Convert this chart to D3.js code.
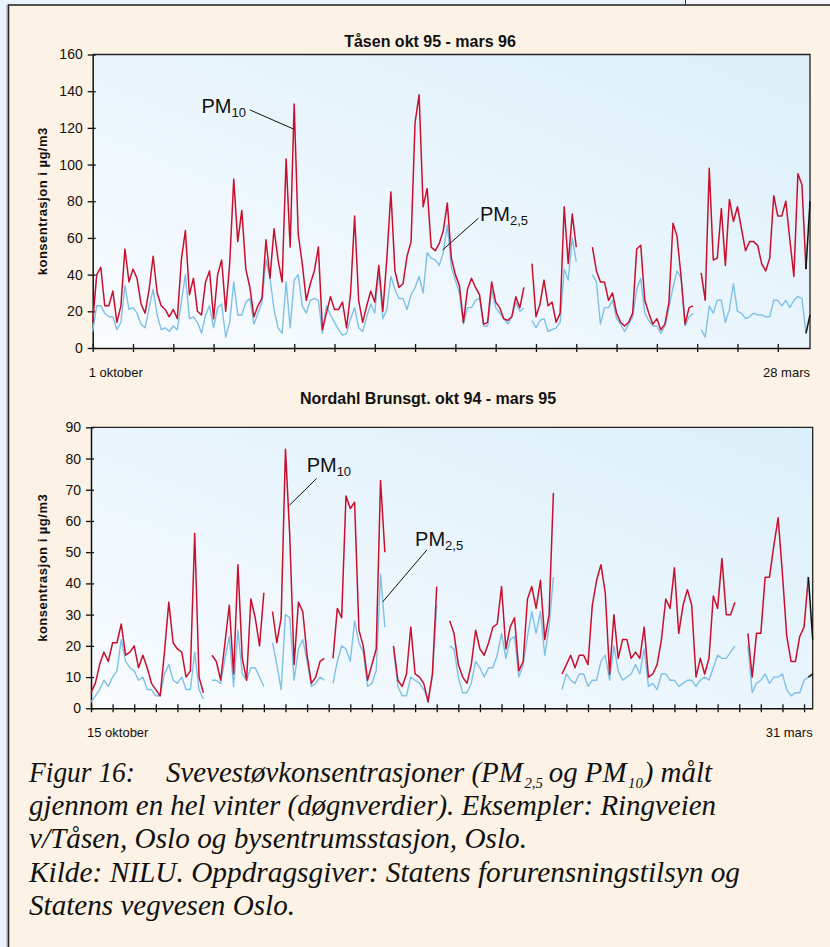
<!DOCTYPE html>
<html><head><meta charset="utf-8">
<script src="https://cdn.jsdelivr.net/npm/d3@7"></script>
<style>
html,body{margin:0;padding:0;background:#eaf3fc;}
svg{display:block;}
</style>
</head><body>
<svg id="chart" width="830" height="947"></svg>
<script>
// ---------------- DATA ----------------
// Tåsen okt 95 - mars 96 : one value per day from 1 oktober (day 0); null = missing day
const tasenTitle = "Tåsen okt 95 - mars 96";
const tasenStart = "1 oktober";
const tasenEnd = "28 mars";
const tasenPM10 = [
  14,40,44,23,23,31,14,23,54,36, 43,38,24,19,32,50,30,23,21,17,
  21,16,48,64,29,38,20,18,36,42, 16,40,48,20,46,92,58,75,43,33,
  17,23,27,59,38,65,48,36,103,55, 133,62,46,26,35,42,55,10,19,28,
  21,21,25,11,30,72,26,14,23,31, 25,45,20,49,85,42,33,35,50,58,
  123,138,77,87,55,53,57,64,79,49, 40,34,14,32,38,33,29,13,14,36,
  25,22,16,15,17,28,22,33,null,46, 17,24,37,23,25,14,19,77,46,73,
  55,null,null,null,55,42,36,36,26,30, 19,14,12,14,19,54,56,26,19,13,
  16,10,13,25,68,61,39,13,22,23, null,41,26,98,48,49,76,45,81,69,
  77,65,53,58,58,56,46,42,49,83, 72,72,80,59,39,95,89,43,80
];
const tasenPM25 = [
  9,23,23,19,17,17,10,14,34,21, 22,19,13,11,22,32,18,10,11,9,
  12,10,25,40,16,17,14,8,18,23, 11,22,24,6,14,36,18,18,25,27,
  13,19,25,48,38,21,11,8,36,11, 37,40,23,19,26,27,26,8,23,18,
  14,10,7,8,16,22,11,9,17,24, 19,42,16,21,39,32,27,27,21,29,
  33,39,30,52,49,48,45,52,67,44, 37,30,13,22,22,26,27,12,12,32,
  22,19,16,13,17,25,20,22,null,15, 11,15,16,9,10,11,14,43,37,60,
  47,null,null,null,40,36,13,22,22,26, 16,13,9,13,17,32,38,19,15,12,
  12,8,12,22,33,42,38,12,17,19, null,10,6,23,19,26,26,14,21,35,
  20,19,16,17,19,18,18,17,17,26, 26,23,26,22,26,28,27,8,18
];
const tasenTicksY = [0,20,40,60,80,100,120,140,160];

// Nordahl Brunsgt. okt 94 - mars 95 : one value per day from 15 oktober (day 0)
const nordTitle = "Nordahl Brunsgt. okt 94 - mars 95";
const nordStart = "15 oktober";
const nordEnd = "31 mars";
const nordPM10 = [
  5,8,14,18,15,21,21,27,17,18, 20,13,17,13,8,6,4,18,34,21,
  19,18,10,12,56,10,5,null,17,15, 9,21,33,11,46,16,9,35,29,20,
  37,null,31,21,29,83,55,14,34,31, 17,8,10,15,16,null,16,32,29,68,
  64,66,25,20,9,14,19,73,50,null, 20,9,7,11,26,11,10,8,2,11,
  39,null,null,28,24,14,10,8,14,25, 19,17,21,26,27,39,19,26,29,12,
  15,35,39,32,41,22,30,69,null,11, 14,17,13,17,17,14,33,41,46,37,
  11,30,16,22,22,16,18,16,26,10, 11,14,22,35,32,45,24,33,38,33,
  10,16,11,16,36,32,48,30,30,34, null,null,24,10,24,24,42,42,52,61,
  43,23,15,15,23,26,42,22
];
const nordPM25 = [
  2,4,6,9,7,10,12,22,15,13, 12,9,10,6,6,4,4,11,14,9,
  8,10,6,6,18,6,3,null,9,9, 8,16,23,7,25,11,9,13,13,10,
  7,null,21,14,6,30,29,9,19,22, 15,7,8,10,9,null,8,15,20,19,
  15,28,21,18,7,8,12,43,26,null, 19,7,4,4,10,9,8,6,3,10,
  33,null,null,20,19,10,5,5,8,15, 13,10,13,13,17,24,16,22,23,10,
  14,23,31,24,31,17,26,42,null,6, 11,9,8,11,11,7,9,9,15,17,
  9,20,12,9,10,11,14,11,19,7, 8,6,11,11,9,9,7,8,9,9,
  7,9,10,9,13,17,16,16,18,20, null,null,20,5,8,9,11,8,10,10,
  11,6,4,5,5,9,10,11
];
const nordTicksY = [0,10,20,30,40,50,60,70,80,90];

const yTitle = "konsentrasjon i µg/m3";

const captionHead = "Figur 16:";
const captionFirst = [
  {t:"Svevestøvkonsentrasjoner (PM", sub:false},
  {t:"2,5", sub:true},
  {t:"og PM", sub:false},
  {t:"10", sub:true},
  {t:") målt", sub:false}
];
const captionLines = [
  "gjennom en hel vinter (døgnverdier). Eksempler: Ringveien",
  "v/Tåsen, Oslo og bysentrumsstasjon, Oslo.",
  "Kilde: NILU. Oppdragsgiver: Statens forurensningstilsyn og",
  "Statens vegvesen Oslo."
];
const captionWidths = [687, 498, 711, 266];

// ---------------- FONT PICK ----------------
function pickFont(cands){
  const c = document.createElement('canvas').getContext('2d');
  const s = 'Figur 16: Svevestøvkonsentrasjoner WMmil';
  c.font = 'italic 40px monospace'; const b1 = c.measureText(s).width;
  c.font = 'italic 40px sans-serif'; const b2 = c.measureText(s).width;
  for (const f of cands){
    c.font = `italic 40px '${f}', monospace`; const w1 = c.measureText(s).width;
    c.font = `italic 40px '${f}', sans-serif`; const w2 = c.measureText(s).width;
    if (w1 !== b1 && w2 !== b2) return f;
  }
  return null;
}
const serifCands = ['Liberation Serif','Times New Roman','Tinos','Nimbus Roman','Nimbus Roman No9 L','FreeSerif','Noto Serif','DejaVu Serif'];
const serifPick = pickFont(serifCands);
const timesLike = ['Liberation Serif','Times New Roman','Tinos','Nimbus Roman','Nimbus Roman No9 L','FreeSerif'];
const capSize = serifPick && timesLike.includes(serifPick) ? 29.4 : (serifPick ? 26.8 : 27.5);
const SERIF = (serifPick ? `'${serifPick}', ` : '') + "serif";

// ---------------- DRAW ----------------
const SANS = "'Liberation Sans', Arial, sans-serif";
const svg = d3.select("#chart");
const RED = "#c8102e", BLUE = "#7fc1e6";

// panel background
svg.append("rect").attr("x",0).attr("y",0).attr("width",830).attr("height",947).attr("fill","#eaf3fc");
svg.append("rect").attr("x",685).attr("y",0).attr("width",145).attr("height",5).attr("fill","#f7f8f9");
svg.append("line").attr("x1",685.5).attr("x2",685.5).attr("y1",0).attr("y2",5).attr("stroke","#333").attr("stroke-width",1);
svg.append("line").attr("x1",7).attr("x2",7).attr("y1",5).attr("y2",947).attr("stroke","#9aa0a6").attr("stroke-width",1);
svg.append("rect").attr("x",8.5).attr("y",5).attr("width",840).attr("height",960)
   .attr("fill","#fcf2e5").attr("stroke","#2b2b2b").attr("stroke-width",1.6);

const defs = svg.append("defs");
const grad = defs.append("linearGradient").attr("id","plotbg")
  .attr("x1","0").attr("y1","1").attr("x2","1").attr("y2","0");
grad.append("stop").attr("offset","0%").attr("stop-color","#f9fcff");
grad.append("stop").attr("offset","100%").attr("stop-color","#dbeff9");

function panel(cfg){
  const x = d3.scaleLinear().domain([0, cfg.lastDay]).range([cfg.left, cfg.right]);
  const y = d3.scaleLinear().domain([0, cfg.yMax]).range([cfg.bottom, cfg.top]);
  const g = svg.append("g");

  g.append("rect").attr("x",cfg.left).attr("y",cfg.top)
    .attr("width",cfg.right-cfg.left).attr("height",cfg.bottom-cfg.top)
    .attr("fill","url(#plotbg)");

  g.append("path").attr("d",`M${cfg.left},${cfg.top}H${cfg.right}V${cfg.bottom}`)
    .attr("fill","none").attr("stroke","#222").attr("stroke-width",1.3);

  const yAxis = d3.axisLeft(y).tickValues(cfg.yTicks).tickSizeInner(5).tickSizeOuter(0).tickPadding(5);
  const ya = g.append("g").attr("transform",`translate(${cfg.left},0)`).call(yAxis);
  ya.select(".domain").attr("stroke","#111").attr("stroke-width",1.5);
  ya.selectAll(".tick line").attr("stroke","#111").attr("stroke-width",1.3).attr("x2",-5).attr("x1",3);
  ya.selectAll(".tick text").attr("font-family",SANS).attr("font-size",14).attr("fill","#111");

  const xt = d3.range(0, cfg.lastDay, cfg.tickEvery);
  const xAxis = d3.axisBottom(x).tickValues(xt).tickSizeInner(4).tickSizeOuter(0).tickFormat("");
  const xa = g.append("g").attr("transform",`translate(0,${cfg.bottom})`).call(xAxis);
  xa.select(".domain").attr("stroke","#111").attr("stroke-width",1.5);
  xa.selectAll(".tick line").attr("stroke","#111").attr("stroke-width",1.3).attr("y1",-4).attr("y2",4);

  const last = cfg.pm10.length - 1;
  const mk = (lo, hi) => d3.line().defined((d,i) => d != null && i >= lo && i <= hi)
                              .x((d,i) => x(i)).y(d => y(d));
  g.append("path").datum(cfg.pm25).attr("d", mk(0,last-1)).attr("fill","none")
    .attr("stroke",BLUE).attr("stroke-width",1.4).attr("stroke-linejoin","round");
  g.append("path").datum(cfg.pm10).attr("d", mk(0,last-1)).attr("fill","none")
    .attr("stroke",RED).attr("stroke-width",1.5).attr("stroke-linejoin","round");
  [cfg.pm25, cfg.pm10].forEach(s => {
    g.append("path").datum(s).attr("d", mk(last-1,last)).attr("fill","none")
      .attr("stroke","#111").attr("stroke-width",1.5);
  });

  g.append("text").attr("x",cfg.titleX).attr("y",cfg.titleY).attr("text-anchor","middle")
    .attr("font-family",SANS).attr("font-weight","bold")
    .attr("font-size",16).attr("fill","#111").text(cfg.title);
  g.append("text").attr("x",cfg.left-4).attr("y",cfg.bottom+29)
    .attr("font-family",SANS).attr("font-size",13).attr("fill","#111").text(cfg.start);
  g.append("text").attr("x",cfg.right).attr("y",cfg.bottom+29).attr("text-anchor","end")
    .attr("font-family",SANS).attr("font-size",13).attr("fill","#111").text(cfg.end);
  g.append("text").attr("transform",`translate(42,${(cfg.top+cfg.bottom)/2}) rotate(-90)`)
    .attr("text-anchor","middle").attr("dominant-baseline","central")
    .attr("font-family",SANS).attr("font-weight","bold")
    .attr("font-size",13).attr("letter-spacing",0.5).attr("fill","#111").text(yTitle);

  cfg.notes.forEach(n => {
    g.append("line").attr("x1",x(n.from[0])).attr("y1",y(n.from[1]))
      .attr("x2",x(n.to[0])).attr("y2",y(n.to[1])).attr("stroke","#111").attr("stroke-width",1);
    const t = g.append("text").attr("x",x(n.at[0])).attr("y",y(n.at[1]))
      .attr("font-family",SANS).attr("font-size",20).attr("fill","#111");
    t.append("tspan").text("PM");
    t.append("tspan").attr("font-size",13).attr("dy",4).text(n.sub);
  });
}

panel({
  left:92.7, right:810, top:54.5, bottom:348, lastDay:178, yMax:160, yTicks:tasenTicksY, tickEvery:10,
  pm10:tasenPM10, pm25:tasenPM25, title:tasenTitle, titleX:430, titleY:47, start:tasenStart, end:tasenEnd,
  notes:[
    {sub:"10", at:[27.0,128.3], from:[39.0,129.8], to:[49.8,119.4]},
    {sub:"2,5", at:[96.1,69.4], from:[95.7,70.7], to:[86.8,53.4]}
  ]
});
panel({
  left:91, right:812.7, top:427.3, bottom:708.3, lastDay:167, yMax:90, yTicks:nordTicksY, tickEvery:5,
  pm10:nordPM10, pm25:nordPM25, title:nordTitle, titleX:428, titleY:404, start:nordStart, end:nordEnd,
  notes:[
    {sub:"10", at:[49.9,75.7], from:[52.2,73.6], to:[45.9,65.0]},
    {sub:"2,5", at:[75.0,52.1], from:[77.7,50.7], to:[67.5,34.1]}
  ]
});

// caption
const cap = svg.append("g").attr("font-family",SERIF)
  .attr("font-style","italic").attr("font-size",capSize).attr("fill","#111");
const base = 782, lh = 33.2;
cap.append("text").attr("x",29).attr("y",base)
  .attr("textLength",106).attr("lengthAdjust","spacingAndGlyphs").text(captionHead);

// first line: separate pieces laid out side by side, then fitted to the reference width
const gaps = [0, 1.5, 6, 1.5, 1];
const firstG = cap.append("g");
let cx = 0;
captionFirst.forEach((p, i) => {
  cx += gaps[i];
  const t = firstG.append("text").attr("x",cx).attr("y", p.sub ? base + 6 : base)
    .attr("font-size", p.sub ? 15 : capSize).text(p.t);
  cx += t.node().getComputedTextLength();
});
const k = 546 / cx;
firstG.attr("transform",`translate(166,0) scale(${k},1)`);

captionLines.forEach((s,i) => {
  cap.append("text").attr("x",29).attr("y",base+lh*(i+1))
    .attr("textLength",captionWidths[i]).attr("lengthAdjust","spacingAndGlyphs").text(s);
});
</script>
</body></html>
